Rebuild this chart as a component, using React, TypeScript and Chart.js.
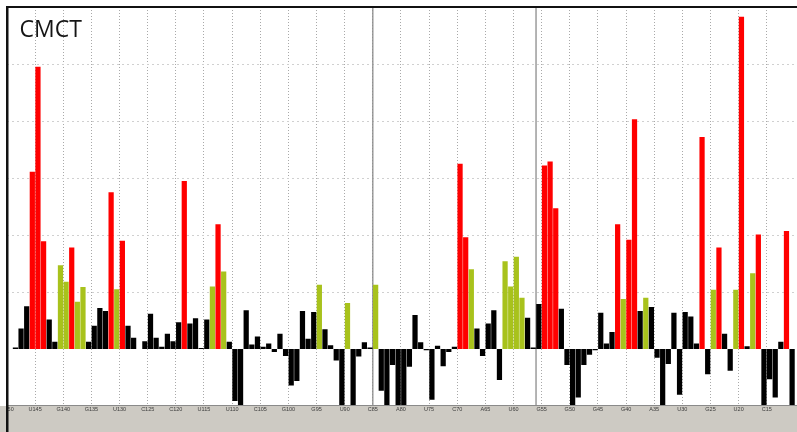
import { useEffect, useRef } from 'react';
import { Chart, registerables } from 'chart.js';

Chart.register(...registerables);

// Nucleotide positions, 5' end on the right (descending left to right)
const positions = [
  150, 149, 148, 147, 146, 145, 144, 143, 142, 141,
  140, 139, 138, 137, 136, 135, 134, 133, 132, 131,
  130, 129, 128, 127, 126, 125, 124, 123, 122, 121,
  120, 119, 118, 117, 116, 115, 114, 113, 112, 111,
  110, 109, 108, 107, 106, 105, 104, 103, 102, 101,
  100, 99, 98, 97, 96, 95, 94, 93, 92, 91,
  90, 89, 88, 87, 86, 85, 84, 83, 82, 81,
  80, 79, 78, 77, 76, 75, 74, 73, 72, 71,
  70, 69, 68, 67, 66, 65, 64, 63, 62, 61,
  60, 59, 58, 57, 56, 55, 54, 53, 52, 51,
  50, 49, 48, 47, 46, 45, 44, 43, 42, 41,
  40, 39, 38, 37, 36, 35, 34, 33, 32, 31,
  30, 29, 28, 27, 26, 25, 24, 23, 22, 21,
  20, 19, 18, 17, 16, 15, 14, 13, 12, 11,
  10,
];

// CMCT reactivity per position (one grid step = 1 unit)
const reactivity = [
  0, 0.03, 0.36, 0.75, 3.11, 4.95, 1.89, 0.52, 0.13, 1.47,
  1.18, 1.78, 0.83, 1.09, 0.13, 0.41, 0.72, 0.67, 2.75, 1.05,
  1.9, 0.41, 0.2, 0, 0.14, 0.62, 0.2, 0.04, 0.27, 0.14,
  0.47, 2.95, 0.45, 0.54, 0.02, 0.52, 1.1, 2.19, 1.36, 0.13,
  -0.91, -1.2, 0.68, 0.08, 0.22, 0.04, 0.1, -0.05, 0.27, -0.12,
  -0.64, -0.56, 0.67, 0.18, 0.65, 1.13, 0.35, 0.07, -0.2, -1.2,
  0.81, -1.2, -0.13, 0.12, 0.03, 1.13, -0.73, -1.2, -0.28, -1.2,
  -1.2, -0.31, 0.6, 0.12, -0.02, -0.89, 0.06, -0.3, -0.05, 0.04,
  3.25, 1.96, 1.4, 0.36, -0.12, 0.45, 0.68, -0.54, 1.54, 1.1,
  1.62, 0.9, 0.55, 0.03, 0.79, 3.22, 3.29, 2.47, 0.71, -0.28,
  -1.2, -0.85, -0.28, -0.1, -0.02, 0.64, 0.1, 0.3, 2.19, 0.88,
  1.92, 4.03, 0.67, 0.9, 0.74, -0.15, -1.2, -0.26, 0.64, -0.8,
  0.65, 0.57, 0.1, 3.72, -0.44, 1.04, 1.78, 0.27, -0.38, 1.04,
  5.83, 0.05, 1.33, 2.01, -1.2, -0.53, -0.85, 0.13, 2.07, -1.2,
  0,
];

// Reactivity class per position: k = unreactive, r = strong, g = moderate
const reactivityClass = [
  'k', 'k', 'k', 'k', 'r', 'r', 'r', 'k', 'k', 'g',
  'g', 'r', 'g', 'g', 'k', 'k', 'k', 'k', 'r', 'g',
  'r', 'k', 'k', 'k', 'k', 'k', 'k', 'k', 'k', 'k',
  'k', 'r', 'k', 'k', 'k', 'k', 'g', 'r', 'g', 'k',
  'k', 'k', 'k', 'k', 'k', 'k', 'k', 'k', 'k', 'k',
  'k', 'k', 'k', 'k', 'k', 'g', 'k', 'k', 'k', 'k',
  'g', 'k', 'k', 'k', 'k', 'g', 'k', 'k', 'k', 'k',
  'k', 'k', 'k', 'k', 'k', 'k', 'k', 'k', 'k', 'k',
  'r', 'r', 'g', 'k', 'k', 'k', 'k', 'k', 'g', 'g',
  'g', 'g', 'k', 'k', 'k', 'r', 'r', 'r', 'k', 'k',
  'k', 'k', 'k', 'k', 'k', 'k', 'k', 'k', 'r', 'g',
  'r', 'r', 'k', 'g', 'k', 'k', 'k', 'k', 'k', 'k',
  'k', 'k', 'k', 'r', 'k', 'g', 'r', 'k', 'k', 'g',
  'r', 'k', 'g', 'r', 'k', 'k', 'k', 'k', 'r', 'k',
  'k',
];

const tickPositions = [
  150, 145, 140, 135, 130, 125, 120, 115, 110, 105,
  100, 95, 90, 85, 80, 75, 70, 65, 60, 55,
  50, 45, 40, 35, 30, 25, 20, 15,
];
const tickLabels = [
  'G150', 'U145', 'G140', 'G135', 'U130', 'C125', 'C120', 'U115', 'U110', 'C105',
  'G100', 'G95', 'U90', 'C85', 'A80', 'U75', 'C70', 'A65', 'U60', 'G55',
  'G50', 'G45', 'G40', 'A35', 'U30', 'G25', 'U20', 'C15',
];
const dividerPositions = [85, 56];
const yTicks = [1, 2, 3, 4, 5];
const chartTitle = 'CMCT';

const classColors: Record<string, string> = {
  k: '#000000',
  r: '#ff0000',
  g: '#a8c21c',
};

const CANVAS_W = 820;
const CANVAS_H = 432;

export default function App() {
  const ref = useRef<HTMLCanvasElement>(null);

  useEffect(() => {
    const canvas = ref.current;
    if (!canvas) return;

    const framePlugin = {
      id: 'frame',
      beforeDraw(chart: any) {
        const { ctx, chartArea, width, height } = chart;
        ctx.save();
        ctx.fillStyle = '#ffffff';
        ctx.fillRect(0, 0, width, height);
        ctx.fillStyle = '#cdcac3';
        ctx.fillRect(0, chartArea.bottom, width, height - chartArea.bottom);
        ctx.restore();
      },
      beforeDatasetsDraw(chart: any) {
        const { ctx, chartArea } = chart;
        const xs = chart.scales.x;
        const half = (xs.getPixelForTick(1) - xs.getPixelForTick(0)) / 2;
        ctx.save();
        ctx.strokeStyle = '#8c8c8c';
        ctx.lineWidth = 1.3;
        dividerPositions.forEach((p) => {
          const idx = positions.indexOf(p);
          if (idx < 0) return;
          const px = xs.getPixelForTick(idx) - half;
          ctx.beginPath();
          ctx.moveTo(px, chartArea.top);
          ctx.lineTo(px, chartArea.bottom);
          ctx.stroke();
        });
        ctx.restore();
      },
      afterDraw(chart: any) {
        const { ctx, chartArea, width, height } = chart;
        ctx.save();
        // hide label overflow left of the frame
        ctx.fillStyle = '#cdcac3';
        ctx.fillRect(0, chartArea.bottom + 1, chartArea.left - 1, height - chartArea.bottom);
        ctx.fillStyle = '#ffffff';
        ctx.fillRect(0, 0, chartArea.left - 1, chartArea.bottom + 1);
        // frame
        ctx.fillStyle = '#111111';
        ctx.fillRect(chartArea.left - 1, chartArea.top - 1, 2.5, height);
        ctx.fillRect(chartArea.left - 1, chartArea.top - 1, width, 2);
        // title
        ctx.fillStyle = '#151515';
        ctx.font = '23px "Open Sans"';
        ctx.textBaseline = 'alphabetic';
        ctx.textAlign = 'left';
        ctx.fillText(chartTitle, 19.5, 37);
        ctx.restore();
      },
    };

    const chart = new Chart(canvas, {
      type: 'bar',
      data: {
        labels: positions.map(String),
        datasets: [
          {
            data: reactivity,
            backgroundColor: reactivityClass.map((c) => classColors[c]),
            borderWidth: 0,
            barPercentage: 0.93,
            categoryPercentage: 1,
          },
        ],
      },
      options: {
        responsive: false,
        animation: false,
        devicePixelRatio: 1,
        layout: {
          padding: { left: 7, top: 7, right: CANVAS_W - 7 - 141 * 5.628, bottom: 0 },
        },
        plugins: {
          legend: { display: false },
          tooltip: { enabled: false },
          title: { display: false },
        },
        scales: {
          x: {
            grid: {
              offset: true,
              drawTicks: false,
              lineWidth: 1,
              color: (ctx: any) =>
                tickPositions.includes(positions[ctx.index]) ? '#a9a9a9' : 'rgba(0,0,0,0)',
            },
            border: { display: true, color: '#8a8a8a', width: 1, dash: [1, 2] },
            ticks: {
              autoSkip: false,
              maxRotation: 0,
              minRotation: 0,
              labelOffset: -2.8,
              padding: 1,
              color: '#3c3c3c',
              font: { size: 5.5, family: 'Liberation Sans' },
              callback: (_v: any, i: number) => {
                const k = tickPositions.indexOf(positions[i]);
                return k >= 0 ? tickLabels[k] : '';
              },
            },
            afterFit: (s: any) => {
              s.height = 27;
              s.paddingLeft = 0;
              s.paddingRight = 0;
            },
          },
          y: {
            min: -0.98,
            max: 6,
            afterBuildTicks: (s: any) => {
              s.ticks = yTicks.map((v) => ({ value: v }));
            },
            ticks: { display: false },
            grid: {
              drawTicks: false,
              color: '#d0d0d0',
              lineWidth: 1,
            },
            border: { display: false, dash: [2, 3] },
            afterFit: (s: any) => {
              s.width = 0;
            },
          },
        },
      },
      plugins: [framePlugin],
    });

    return () => chart.destroy();
  }, []);

  return (
    <div
      style={{
        position: 'fixed',
        left: 0,
        top: 0,
        width: 797,
        height: 432,
        overflow: 'hidden',
        background: '#ffffff',
      }}
    >
      <canvas
        ref={ref}
        width={CANVAS_W}
        height={CANVAS_H}
        style={{ display: 'block', width: CANVAS_W, height: CANVAS_H }}
      />
    </div>
  );
}
